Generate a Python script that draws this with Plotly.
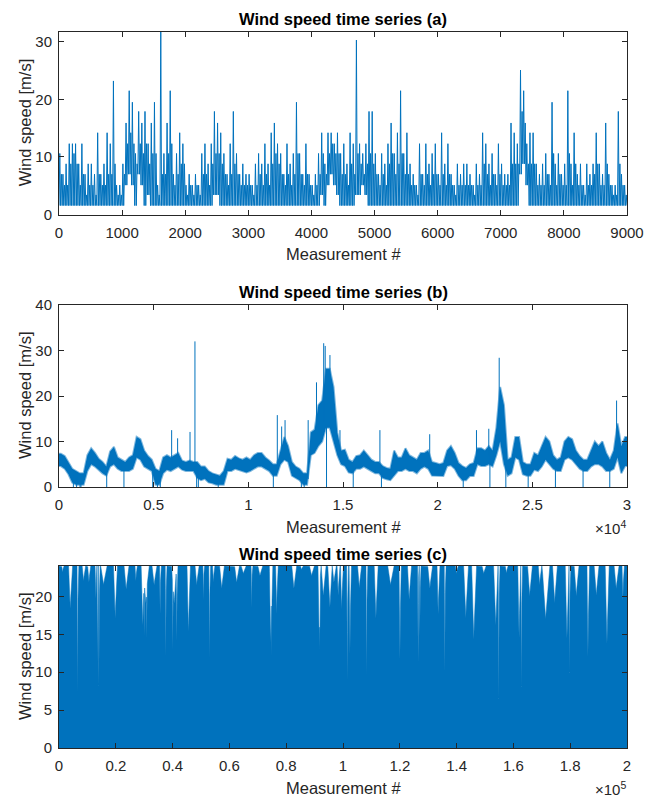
import numpy as np
import plotly.graph_objects as go

BLUE = "#0072BD"
BLUE_FUZZ = "rgba(0,114,189,0.5)"
TXT = "#262626"
FONT = "Liberation Sans, Arial, Helvetica, sans-serif"

# ---------------- Panel (a): 9000 measurements, per 50-sample bin: low, typical, high ----------------
A_BIN = 50
a_hi = [
    10.6, 7.0, 8.8, 12.3, 12.3, 12.3, 8.8, 12.3, 7.0, 8.8,
    8.8, 7.0, 14.2, 7.0, 8.8, 14.2, 12.3, 23.2, 5.1, 5.1,
    8.8, 15.9, 21.5, 19.5, 10.6, 17.9, 15.9, 17.9, 12.3, 15.9,
    19.5, 5.1, 31.7, 10.6, 15.9, 21.5, 7.0, 10.6, 14.2, 12.3,
    5.1, 7.0, 5.1, 7.0, 5.1, 10.6, 12.3, 8.8, 12.3, 17.9,
    15.9, 14.2, 10.6, 7.0, 12.3, 17.9, 10.6, 7.0, 8.8, 7.0,
    7.0, 5.1, 8.8, 10.6, 8.8, 12.3, 8.8, 14.2, 15.9, 12.3,
    10.6, 7.0, 12.3, 8.8, 10.6, 19.5, 10.6, 7.0, 12.3, 7.0,
    5.1, 7.0, 10.6, 14.2, 8.8, 14.2, 14.2, 12.3, 14.2, 10.6,
    12.3, 8.8, 14.2, 12.3, 30.3, 12.3, 10.6, 12.3, 17.9, 17.9,
    10.6, 7.0, 10.6, 8.8, 12.3, 15.9, 10.6, 14.2, 21.5, 10.6,
    14.2, 8.8, 7.0, 5.1, 12.3, 7.0, 12.3, 8.8, 10.6, 12.3,
    7.0, 14.2, 8.8, 12.3, 7.0, 5.1, 8.8, 7.0, 8.8, 8.8,
    7.0, 5.1, 8.8, 7.0, 14.2, 12.3, 8.8, 10.6, 7.0, 12.3,
    8.8, 7.0, 7.0, 15.9, 14.2, 12.3, 25.1, 21.5, 12.3, 14.2,
    14.2, 8.8, 7.0, 8.8, 10.6, 7.0, 19.5, 8.8, 10.6, 7.0,
    8.8, 21.5, 8.8, 14.2, 7.0, 8.8, 5.1, 8.8, 7.0, 8.8,
    14.2, 8.8, 7.0, 15.9, 7.0, 5.1, 5.1, 17.9, 7.0, 5.1,
]
a_mid = [
    7.0, 5.1, 5.1, 8.8, 10.6, 8.8, 5.1, 7.0, 3.4, 5.1,
    5.1, 3.4, 7.0, 5.1, 5.1, 7.0, 7.0, 8.8, 3.4, 3.4,
    7.0, 12.3, 14.2, 12.3, 8.8, 12.3, 10.6, 12.3, 8.8, 10.6,
    10.6, 3.4, 7.0, 7.0, 10.6, 12.3, 5.1, 7.0, 8.8, 8.8,
    3.4, 5.1, 3.4, 5.1, 3.4, 7.0, 7.0, 5.1, 8.8, 10.6,
    10.6, 8.8, 7.0, 5.1, 7.0, 8.8, 7.0, 5.1, 5.1, 5.1,
    5.1, 3.4, 5.1, 7.0, 5.1, 7.0, 5.1, 8.8, 10.6, 8.8,
    7.0, 5.1, 7.0, 5.1, 7.0, 10.6, 7.0, 5.1, 7.0, 5.1,
    3.4, 5.1, 7.0, 10.6, 7.0, 10.6, 12.3, 10.6, 10.6, 7.0,
    7.0, 5.1, 8.8, 7.0, 10.6, 8.8, 7.0, 8.8, 10.6, 8.8,
    7.0, 5.1, 7.0, 5.1, 8.8, 10.6, 7.0, 8.8, 10.6, 7.0,
    7.0, 5.1, 5.1, 3.4, 7.0, 5.1, 7.0, 5.1, 7.0, 7.0,
    5.1, 7.0, 5.1, 7.0, 5.1, 3.4, 5.1, 5.1, 5.1, 5.1,
    5.1, 3.4, 5.1, 5.1, 8.8, 7.0, 5.1, 7.0, 5.1, 7.0,
    5.1, 5.1, 5.1, 8.8, 8.8, 8.8, 17.9, 15.9, 8.8, 8.8,
    8.8, 5.1, 5.1, 5.1, 7.0, 5.1, 10.6, 5.1, 7.0, 5.1,
    5.1, 10.6, 5.1, 8.8, 5.1, 5.1, 3.4, 5.1, 5.1, 7.0,
    8.8, 5.1, 5.1, 8.8, 5.1, 3.4, 3.4, 8.8, 5.1, 3.4,
]
a_lo = [
    1.55, 1.55, 1.55, 1.55, 1.55, 1.55, 1.55, 1.55, 1.55, 1.55,
    1.55, 1.55, 1.55, 1.55, 1.55, 1.55, 1.55, 1.55, 1.55, 1.55,
    1.55, 5.1, 7.0, 5.1, 1.55, 7.0, 5.1, 1.55, 3.4, 1.55,
    1.55, 1.55, 1.55, 1.55, 1.55, 1.55, 1.55, 1.55, 1.55, 1.55,
    1.55, 1.55, 1.55, 1.55, 1.55, 1.55, 1.55, 1.55, 1.55, 3.4,
    3.4, 1.55, 1.55, 1.55, 1.55, 1.55, 1.55, 1.55, 1.55, 1.55,
    1.55, 1.55, 1.55, 1.55, 1.55, 1.55, 1.55, 1.55, 1.55, 1.55,
    1.55, 1.55, 1.55, 1.55, 1.55, 1.55, 1.55, 1.55, 1.55, 1.55,
    1.55, 1.55, 1.55, 3.4, 1.55, 5.1, 7.0, 5.1, 3.4, 1.55,
    1.55, 1.55, 1.55, 1.55, 3.4, 3.4, 5.1, 3.4, 1.55, 1.55,
    1.55, 1.55, 1.55, 1.55, 1.55, 1.55, 1.55, 1.55, 1.55, 1.55,
    1.55, 1.55, 1.55, 1.55, 1.55, 1.55, 1.55, 1.55, 1.55, 1.55,
    1.55, 1.55, 1.55, 1.55, 1.55, 1.55, 1.55, 1.55, 1.55, 1.55,
    1.55, 1.55, 1.55, 1.55, 1.55, 1.55, 1.55, 1.55, 1.55, 1.55,
    1.55, 1.55, 1.55, 1.55, 1.55, 1.55, 7.0, 8.8, 5.1, 1.55,
    1.55, 1.55, 1.55, 1.55, 1.55, 1.55, 1.55, 1.55, 1.55, 1.55,
    1.55, 1.55, 1.55, 1.55, 1.55, 1.55, 1.55, 1.55, 1.55, 1.55,
    1.55, 1.55, 1.55, 1.55, 1.55, 1.55, 1.55, 1.55, 1.55, 1.55,
]

# ---------------- Panel (b): 30000 measurements, noise band per 200-sample bin + spikes ----------------
B_BIN = 200
b_lo = [
    4.6, 4.0, 2.8, 1.0, 0.5, 0.5, 0.5, 3.5, 5.0, 4.5,
    3.8, 3.0, 2.5, 4.5, 5.0, 4.0, 3.5, 3.5, 3.5, 4.0,
    6.5, 6.0, 4.5, 4.0, 3.5, 0.5, 0.5, 3.0, 3.8, 3.5,
    4.0, 4.5, 3.8, 3.5, 3.5, 3.5, 2.0, 1.5, 1.8, 1.0,
    0.8, 0.5, 0.5, 0.5, 3.5, 3.5, 4.0, 3.8, 3.5, 3.2,
    3.5, 4.0, 4.5, 4.5, 4.0, 3.5, 2.5, 2.5, 5.0, 6.0,
    5.5, 2.5, 2.0, 1.5, 0.5, 0.5, 7.0, 7.5, 9.0, 10.0,
    13.0, 13.0, 10.0, 7.0, 5.0, 4.6, 3.2, 3.0, 4.0, 4.0,
    4.5, 4.0, 3.5, 3.0, 3.0, 2.0, 1.7, 1.5, 2.5, 3.5,
    3.5, 4.0, 3.5, 3.5, 3.0, 4.0, 4.5, 4.0, 2.5, 2.5,
    2.4, 2.4, 4.6, 4.8, 4.0, 2.5, 1.5, 1.5, 2.4, 2.4,
    5.0, 4.6, 4.6, 5.0, 4.5, 7.0, 10.0, 5.0, 2.5, 3.0,
    6.5, 6.0, 2.8, 2.5, 2.5, 3.8, 3.5, 4.5, 6.0, 5.0,
    4.0, 3.5, 3.5, 6.0, 6.5, 6.0, 5.0, 4.0, 3.5, 3.5,
    4.5, 5.0, 5.0, 4.5, 3.5, 3.5, 4.0, 6.5, 3.0, 4.6,
]
b_hi = [
    7.3, 6.8, 5.5, 4.0, 3.5, 3.0, 3.0, 7.0, 8.5, 7.5,
    6.2, 5.5, 4.5, 7.8, 8.8, 6.5, 6.0, 5.5, 6.5, 7.0,
    11.0, 10.5, 8.0, 6.8, 6.0, 4.0, 3.5, 6.5, 7.0, 6.5,
    7.0, 7.5, 5.8, 5.5, 5.8, 5.5, 5.5, 4.5, 4.5, 3.5,
    3.0, 2.8, 2.5, 3.5, 6.2, 6.0, 6.8, 6.3, 6.0, 6.5,
    6.0, 7.0, 7.5, 7.5, 6.5, 5.8, 5.0, 5.0, 8.0, 11.0,
    9.0, 5.5, 4.5, 4.0, 3.0, 3.0, 12.0, 12.6, 18.0, 19.0,
    26.0, 26.0, 22.0, 12.0, 8.0, 8.2, 6.0, 5.5, 6.8, 7.0,
    8.0, 7.0, 6.0, 5.5, 5.5, 4.6, 4.2, 4.0, 8.0, 6.5,
    6.5, 8.5, 7.0, 6.5, 6.0, 7.5, 7.5, 8.0, 5.5, 5.3,
    5.0, 5.3, 8.0, 9.0, 7.5, 5.3, 4.6, 4.2, 5.0, 5.3,
    8.5, 8.5, 8.0, 9.0, 8.0, 13.0, 22.0, 18.0, 6.0, 6.5,
    11.0, 11.0, 5.5, 5.0, 5.0, 7.5, 7.0, 9.0, 11.0, 10.0,
    7.0, 6.0, 6.5, 10.0, 11.0, 10.5, 8.0, 6.8, 6.0, 6.0,
    8.0, 10.0, 9.0, 10.0, 7.5, 6.0, 8.0, 14.0, 9.0, 11.0,
]
b_spike_pos = [
    5950, 6265, 6920, 7180, 11530, 11760, 11940, 13160, 13600, 13980,
    14060, 14310, 14840, 16950, 19580, 22050, 22700, 23250, 29450,
    760, 930, 1110, 1160, 2520, 3430, 4950, 5200, 5350, 7270,
    7360, 8410, 11320, 12800, 12950, 14130, 15540, 17030, 21350, 22760,
    23600, 24780, 26220, 27680, 29090,
]
b_spike_val = [
    12.5, 10.7, 12.1, 32.0, 15.8, 13.3, 14.7, 14.7, 23.0, 31.6,
    31.0, 29.0, 12.5, 12.5, 11.6, 12.5, 12.8, 28.4, 19.0,
    0.0, 0.0, 0.0, 0.0, 0.0, 0.0, 0.0, 0.0, 0.0, 0.0,
    0.0, 0.0, 0.0, 0.0, 0.0, 0.0, 0.0, 0.0, 0.0, 0.0,
    0.0, 0.0, 0.0, 0.0, 0.0,
]

# ---------------- Panel (c): 200000 measurements, saturated at the top with gaps ----------------
C_MAX = 24.0
C_LEN = 200000
c_gap_pos = [
    1270, 3970, 6550, 8655, 10530, 12990, 13580, 14050, 15690, 19790,
    23660, 27060, 29520, 29990, 30570, 30920, 33500, 35610, 37600, 40070,
    40540, 41470, 45570, 48500, 50850, 52960, 54360, 57290, 62570, 64910,
    67840, 70770, 74520, 74870, 76630, 82720, 85420, 88940, 91640, 91870,
    93070, 95390, 96820, 98310, 99520, 101510, 102450, 105730, 108310, 111590,
    116750, 120030, 123310, 126470, 127060, 130580, 133510, 135850, 139950, 143230,
    146050, 149560, 153780, 154840, 157530, 161990, 162810, 165740, 169250, 171360,
    174530, 178860, 179800, 182140, 186250, 189180, 192930, 196210, 198550,
]
c_gap_val = [
    23.1, 18.2, 7.3, 22.0, 21.8, 19.6, 9.9, 8.1, 21.5, 17.0,
    20.9, 22.0, 16.0, 14.3, 19.0, 13.4, 21.5, 17.3, 12.1, 11.6,
    19.0, 13.0, 15.0, 21.5, 19.5, 11.2, 21.8, 21.0, 21.8, 23.0,
    18.2, 22.7, 13.4, 10.8, 17.3, 21.0, 23.5, 22.7, 13.0, 11.6,
    20.0, 18.5, 21.8, 20.0, 18.0, 8.1, 12.4, 21.0, 8.9, 17.0,
    21.5, 10.8, 19.5, 9.9, 14.3, 21.0, 17.5, 9.9, 23.0, 17.0,
    14.3, 23.0, 16.0, 5.5, 23.0, 14.3, 7.2, 20.0, 21.5, 17.0,
    19.0, 14.3, 9.9, 20.0, 12.1, 20.0, 13.4, 21.0, 19.5,
]
c_gap_width = [
    600, 1200, 400, 1000, 900, 600, 400, 400, 2000, 1200,
    1500, 600, 1200, 400, 2000, 400, 1500, 400, 400, 400,
    1800, 400, 1000, 1200, 400, 400, 600, 1500, 1500, 1500,
    400, 1500, 900, 400, 700, 1500, 800, 1500, 900, 400,
    1500, 1500, 1200, 800, 800, 400, 600, 1200, 400, 1200,
    2000, 600, 1200, 400, 400, 1500, 800, 400, 800, 1500,
    1500, 1200, 1500, 400, 800, 900, 400, 1500, 1000, 2500,
    1500, 1200, 400, 1500, 700, 1500, 1200, 1500, 600,
]

# ---------------- Axis ticks / labels ----------------
a_xticks = [0, 1000, 2000, 3000, 4000, 5000, 6000, 7000, 8000, 9000]
a_yticks = [0, 10, 20, 30]
b_xticks = [0, 5000, 10000, 15000, 20000, 25000, 30000]
b_xticktext = ["0", "0.5", "1", "1.5", "2", "2.5", "3"]
b_yticks = [0, 10, 20, 30, 40]
c_xticks = [0, 20000, 40000, 60000, 80000, 100000, 120000, 140000, 160000, 180000, 200000]
c_xticktext = ["0", "0.2", "0.4", "0.6", "0.8", "1", "1.2", "1.4", "1.6", "1.8", "2"]
c_yticks = [0, 5, 10, 15, 20]
titles = ["Wind speed time series (a)", "Wind speed time series (b)", "Wind speed time series (c)"]
xlabel = "Measurement #"
ylabel = "Wind speed [m/s]"

# ---- panel (a) trace: per bin low -> high -> low -> typical ----
lo = np.asarray(a_lo, float)
mi = np.asarray(a_mid, float)
hi = np.asarray(a_hi, float)
n = len(lo)
st = np.arange(n) * A_BIN
ax = np.column_stack([st, st + A_BIN * 0.25, st + A_BIN * 0.5, st + A_BIN * 0.75]).ravel()
ay = np.column_stack([lo, hi, lo, mi]).ravel()
ax = np.append(ax, n * A_BIN)
ay = np.append(ay, lo[-1])

# ---- panel (b): band polygon + spikes ----
bl = np.asarray(b_lo, float)
bh = np.asarray(b_hi, float)
nb = len(bl)
bc = np.arange(nb) * B_BIN + B_BIN / 2
bcx = np.concatenate([[0], bc, [nb * B_BIN]])
bhy = np.concatenate([[bh[0]], bh, [bh[-1]]])
bly = np.concatenate([[bl[0]], bl, [bl[-1]]])
band_x = np.concatenate([bcx, bcx[::-1]])
band_y = np.concatenate([bhy, bly[::-1]])
sx, sy = [], []
for p, v in zip(b_spike_pos, b_spike_val):
    k = min(int(p // B_BIN), nb - 1)
    base = (bl[k] + bh[k]) / 2
    sx += [p, p, None]
    sy += [base, v, None]

# ---- panel (c): top envelope ----
cx = np.arange(0, C_LEN + 1, 50, dtype=float)
cy = np.full_like(cx, C_MAX)
for p, v, w in zip(c_gap_pos, c_gap_val, c_gap_width):
    prof = C_MAX - (C_MAX - v) * np.clip(1 - np.abs(cx - p) / (w / 2), 0, 1)
    cy = np.minimum(cy, prof)

# page body has an 8px margin: lay the figure out in page pixels minus that offset
OFF = 8
W, H = 657 - OFF, 799 - OFF


def px(x):
    return (x - OFF) / W


def py(y):
    return 1 - (y - OFF) / H


boxes = [(59, 627, 32, 214.5), (59, 627, 305, 487), (59, 627, 566, 748)]

fig = go.Figure()
fig.add_trace(go.Scatter(x=ax, y=ay, mode="lines", line=dict(color=BLUE, width=1),
                         xaxis="x", yaxis="y", showlegend=False, hoverinfo="skip"))
fig.add_trace(go.Scatter(x=band_x, y=band_y, mode="lines", fill="toself", fillcolor=BLUE,
                         line=dict(color=BLUE_FUZZ, width=2),
                         xaxis="x2", yaxis="y2", showlegend=False, hoverinfo="skip"))
fig.add_trace(go.Scatter(x=sx, y=sy, mode="lines", line=dict(color=BLUE, width=1),
                         xaxis="x2", yaxis="y2", showlegend=False, hoverinfo="skip"))
fig.add_trace(go.Scatter(x=cx, y=cy, mode="lines", fill="tozeroy", fillcolor=BLUE,
                         line=dict(color=BLUE, width=0.5),
                         xaxis="x3", yaxis="y3", showlegend=False, hoverinfo="skip"))

common = dict(showline=True, linecolor=TXT, linewidth=1, mirror="ticks", ticks="inside",
              ticklen=5, tickwidth=1, tickcolor=TXT, showgrid=False, zeroline=False,
              automargin=False,
              tickfont=dict(family=FONT, size=15, color=TXT), layer="above traces")

layout = dict(width=W, height=H, margin=dict(l=0, r=0, t=0, b=0, pad=0, autoexpand=False),
              template="none",
              paper_bgcolor="white", plot_bgcolor="white", showlegend=False)

xcfg = [
    dict(range=[0, 9000], tickvals=a_xticks),
    dict(range=[0, 30000], tickvals=b_xticks, ticktext=b_xticktext),
    dict(range=[0, C_LEN], tickvals=c_xticks, ticktext=c_xticktext),
]
ycfg = [
    dict(range=[0, 31.7], tickvals=a_yticks),
    dict(range=[0, 40], tickvals=b_yticks),
    dict(range=[0, C_MAX], tickvals=c_yticks),
]
names = ["", "2", "3"]
for i, (x0, x1, y0, y1) in enumerate(boxes):
    xa = dict(common, domain=[px(x0), px(x1)], anchor="y" + names[i], ticklabelstandoff=4, **xcfg[i])
    ya = dict(common, domain=[py(y1), py(y0)], anchor="x" + names[i], ticklabelstandoff=3, **ycfg[i])
    layout["xaxis" + names[i]] = xa
    layout["yaxis" + names[i]] = ya

ann = []
title_y = [19, 292, 554]
xlab_y = [254, 527, 788]
for i, (x0, x1, y0, y1) in enumerate(boxes):
    cxp = (x0 + x1) / 2
    ann.append(dict(text="<b>" + titles[i] + "</b>", x=px(cxp), y=py(title_y[i]), xref="paper", yref="paper",
                    xanchor="center", yanchor="middle", showarrow=False,
                    font=dict(family=FONT, size=16.5, color="#000000")))
    ann.append(dict(text=xlabel, x=px(cxp), y=py(xlab_y[i]), xref="paper", yref="paper",
                    xanchor="center", yanchor="middle", showarrow=False,
                    font=dict(family=FONT, size=16.5, color=TXT)))
    ann.append(dict(text=ylabel, x=px(25), y=py((y0 + y1) / 2), xref="paper", yref="paper",
                    xanchor="center", yanchor="middle", showarrow=False, textangle=-90,
                    font=dict(family=FONT, size=16.5, color=TXT)))

for ytxt, exp in [(527, "4"), (788, "5")]:
    ann.append(dict(text="×10<sup>" + exp + "</sup>", x=px(628), y=py(ytxt), xref="paper", yref="paper",
                    xanchor="right", yanchor="middle", showarrow=False,
                    font=dict(family=FONT, size=15, color=TXT)))

layout["annotations"] = ann
fig.update_layout(**layout)
fig.write_html("out.html")
